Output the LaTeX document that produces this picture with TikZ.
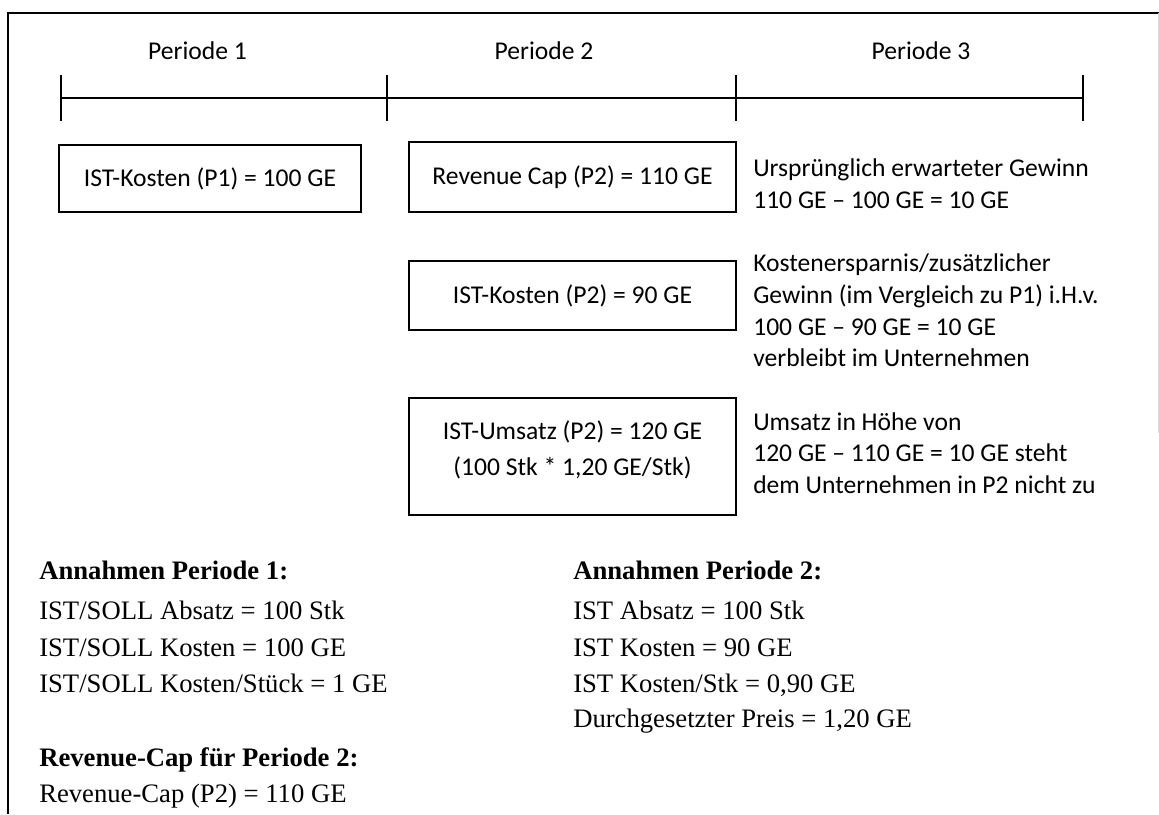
\documentclass[tikz,border=0pt]{standalone}
\usepackage{fontspec}
\setmainfont{Liberation Serif}
\newfontfamily\calfont{Carlito}
\begin{document}
\begin{tikzpicture}[x=0.75pt,y=-0.75pt,
  cal/.style={font=\calfont\fontsize{19.2}{23.6}\selectfont, inner sep=0pt},
  calw/.style={cal, anchor=base west},
  tnr/.style={font=\fontsize{20}{27.5}\selectfont, inner sep=0pt, anchor=base west},
  tnrb/.style={font=\bfseries\fontsize{20}{27.5}\selectfont, inner sep=0pt, anchor=base west},
  box/.style={draw, line width=1pt, inner sep=0pt, font=\calfont\fontsize{19.2}{23.6}\selectfont},
  tl/.style={line width=1pt}]
\useasboundingbox (0,0) rectangle (1159,814);
% outer frame
\draw[line width=1.5pt] (1159,13) -- (8,13) -- (8,814);
\draw[gray!30, line width=0.75pt] (1158,13) -- (1158,433);
% timeline
\coordinate (t1) at (61,98);
\coordinate (t2) at (387,98);
\coordinate (t3) at (736,98);
\coordinate (t4) at (1083,98);
\draw[tl] (t1) -- (t4);
\foreach \t in {t1,t2,t3,t4}
  \draw[tl] ([yshift=17.25pt]\t) -- ([yshift=-17.25pt]\t);
\node[calw, anchor=base] (p1) at (197.5,59) {Periode 1};
\node[calw, anchor=base] (p2) at (544,59) {Periode 2};
\node[calw, anchor=base] (p3) at (921,59) {Periode 3};
% boxes
\node[box, minimum width=302*0.75pt, minimum height=67*0.75pt] (b1) at (210,178.5) {IST-Kosten (P1) = 100 GE};
\node[box, minimum width=327*0.75pt, minimum height=70*0.75pt] (b2) at (572.5,177) {Revenue Cap (P2) = 110 GE};
\node[box, minimum width=327*0.75pt, minimum height=69*0.75pt] (b3) at (572.5,295.5) {IST-Kosten (P2) = 90 GE};
\node[box, minimum width=327*0.75pt, minimum height=117*0.75pt] (b4) at (572.5,456.5) {};
\node[cal, align=center, font=\calfont\fontsize{19.2}{27}\selectfont] (b4t) at (572.5,449.5)
  {IST-Umsatz (P2) = 120 GE\\(100 Stk * 1,20 GE/Stk)};
% right texts
\node[calw] (r1) at (753,176) {Ursprünglich erwarteter Gewinn};
\node[calw] (r2) at (753,208) {110 GE – 100 GE = 10 GE};
\node[calw] (r3) at (753,271) {Kostenersparnis/zusätzlicher};
\node[calw] (r4) at (753,303) {Gewinn (im Vergleich zu P1) i.H.v.};
\node[calw] (r5) at (753,335) {100 GE – 90 GE = 10 GE};
\node[calw] (r6) at (753,366) {verbleibt im Unternehmen};
\node[calw] (r7) at (753,430) {Umsatz in Höhe von};
\node[calw] (r8) at (753,461) {120 GE – 110 GE = 10 GE steht};
\node[calw] (r9) at (753,493) {dem Unternehmen in P2 nicht zu};
% bottom left
\node[tnrb] (a1) at (39,579) {Annahmen Periode 1:};
\node[tnr] (a2) at (39,619) {IST/SOLL Absatz = 100 Stk};
\node[tnr] (a3) at (39,656) {IST/SOLL Kosten = 100 GE};
\node[tnr] (a4) at (39,692) {IST/SOLL Kosten/Stück = 1 GE};
\node[tnrb] (a5) at (39,766) {Revenue-Cap für Periode 2:};
\node[tnr] (a6) at (39,802) {Revenue-Cap (P2) = 110 GE};
% bottom right
\node[tnrb] (c1) at (573,579) {Annahmen Periode 2:};
\node[tnr] (c2) at (573,619) {IST Absatz = 100 Stk};
\node[tnr] (c3) at (573,656) {IST Kosten = 90 GE};
\node[tnr] (c4) at (573,692) {IST Kosten/Stk = 0,90 GE};
\node[tnr] (c5) at (573,727) {Durchgesetzter Preis = 1,20 GE};
\end{tikzpicture}
\end{document}
